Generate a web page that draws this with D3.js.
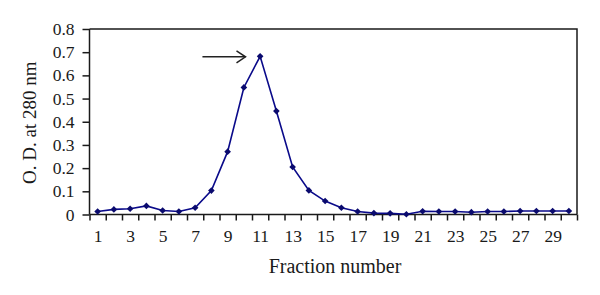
<!DOCTYPE html>
<html>
<head>
<meta charset="utf-8">
<script src="https://cdn.jsdelivr.net/npm/d3@7"></script>
<style>
  body { margin: 0; background: #fff; }
  text { font-family: "Liberation Serif", "DejaVu Serif", serif; fill: #1a1a1a; }
</style>
</head>
<body>
<svg width="600" height="295"></svg>
<script>
var fractions = d3.range(1, 31);
var od = [0.013, 0.022, 0.025, 0.037, 0.017, 0.013, 0.029, 0.103, 0.271, 0.548,
          0.682, 0.446, 0.205, 0.104, 0.058, 0.029, 0.013, 0.006, 0.005, 0.001,
          0.014, 0.013, 0.013, 0.010, 0.013, 0.013, 0.015, 0.015, 0.015, 0.015];
var yTicks = [0, 0.1, 0.2, 0.3, 0.4, 0.5, 0.6, 0.7, 0.8];
var xLabels = [1, 3, 5, 7, 9, 11, 13, 15, 17, 19, 21, 23, 25, 27, 29];
var arrowFrom = [7.45, 0.68];
var arrowTo = [10.1, 0.68];

var svg = d3.select("svg");
var plotLeft = 89.5, plotRight = 577, plotTop = 29, plotBottom = 214.5;

var x = d3.scaleLinear().domain([0.5, 30.5]).range([plotLeft, plotRight]);
var y = d3.scaleLinear().domain([0, 0.8]).range([plotBottom, plotTop]);

var axisColor = "#1a1a1a";

// frame (top and right)
svg.append("path")
    .attr("d", "M" + plotLeft + "," + plotTop + "H" + plotRight + "V" + plotBottom)
    .attr("fill", "none")
    .attr("stroke", axisColor)
    .attr("stroke-width", 1.5);

// y axis
var yAxis = svg.append("g")
    .attr("transform", "translate(" + plotLeft + ",0)")
    .call(d3.axisLeft(y).tickValues(yTicks).tickSize(7).tickPadding(8)
          .tickFormat(function(d) { return d === 0 ? "0" : d3.format(".1f")(d); }));
yAxis.attr("font-family", null).attr("font-size", null);
yAxis.selectAll("text").attr("font-size", 17.5).attr("fill", "#1a1a1a");
yAxis.selectAll("line, path").attr("stroke", axisColor).attr("stroke-width", 1.5);
yAxis.select(".domain").attr("d", "M0," + y(0) + "V" + plotTop);

// x axis: tick marks at the category boundaries
var boundaries = d3.range(0.5, 31, 1);
var xAxis = svg.append("g")
    .attr("transform", "translate(0," + plotBottom + ")")
    .call(d3.axisBottom(x).tickValues(boundaries).tickSize(6).tickFormat(""));
xAxis.selectAll("line, path").attr("stroke", axisColor).attr("stroke-width", 1.5);
xAxis.select(".domain").attr("d", "M" + plotLeft + ",0H" + plotRight);

var xLab = svg.append("g")
    .attr("transform", "translate(0," + plotBottom + ")")
    .call(d3.axisBottom(x).tickValues(xLabels).tickSize(0).tickPadding(15));
xLab.attr("font-family", null).attr("font-size", null);
xLab.select(".domain").remove();
xLab.selectAll("text").attr("font-size", 17.5).attr("fill", "#1a1a1a");

// axis titles
svg.append("text")
    .attr("x", 335)
    .attr("y", 273)
    .attr("text-anchor", "middle")
    .attr("font-size", 20)
    .text("Fraction number");

svg.append("text")
    .attr("transform", "translate(36," + ((plotTop + plotBottom) / 2 + 1) + ") rotate(-90)")
    .attr("text-anchor", "middle")
    .attr("font-size", 19)
    .text("O. D. at 280 nm");

// data line
var line = d3.line()
    .x(function(d, i) { return x(fractions[i]); })
    .y(function(d) { return y(d); });

svg.append("path")
    .datum(od)
    .attr("d", line)
    .attr("fill", "none")
    .attr("stroke", "#0a0a8a")
    .attr("stroke-width", 1.6);

// diamond markers: squares turned 45 degrees
svg.append("g")
    .selectAll("path")
    .data(od)
    .enter().append("path")
    .attr("transform", function(d, i) { return "translate(" + x(fractions[i]) + "," + y(d) + ") rotate(45)"; })
    .attr("d", d3.symbol().type(d3.symbolSquare).size(22))
    .attr("fill", "#0a0a6e");

// annotation arrow
var ax1 = x(arrowFrom[0]), ay = y(arrowFrom[1]), ax2 = x(arrowTo[0]);
svg.append("line")
    .attr("x1", ax1).attr("y1", ay).attr("x2", ax2).attr("y2", ay)
    .attr("stroke", "#222").attr("stroke-width", 1.5);
svg.append("path")
    .attr("d", "M" + (ax2 - 9) + "," + (ay - 6) + "L" + ax2 + "," + ay + "L" + (ax2 - 9) + "," + (ay + 6))
    .attr("fill", "none").attr("stroke", "#222").attr("stroke-width", 1.5);
</script>
</body>
</html>
